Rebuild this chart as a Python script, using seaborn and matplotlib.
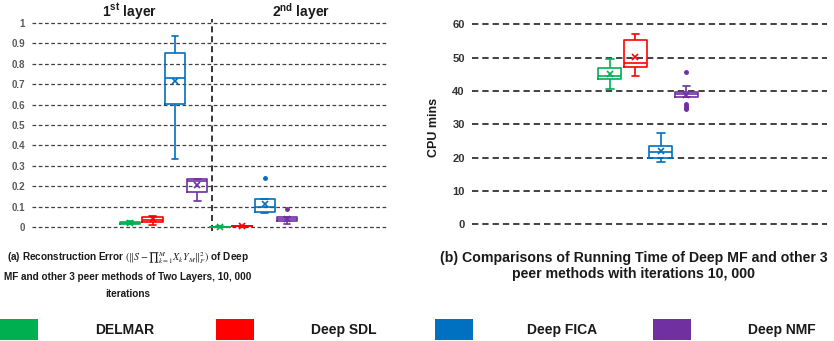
import numpy as np
import pandas as pd
import seaborn as sns
import matplotlib
matplotlib.use("Agg")
import matplotlib.pyplot as plt
from matplotlib.patches import Rectangle
from matplotlib import font_manager

# ---------------- data ----------------
methods = ["DELMAR", "Deep SDL", "Deep FICA", "Deep NMF"]
colors = ["#00b050", "#ff0000", "#0070c0", "#7030a0"]
layers = ["1st layer", "2nd layer"]

# reconstruction error samples (layer 1)
err_l1_delmar = [0.015, 0.017, 0.018, 0.020, 0.022, 0.024, 0.026, 0.028, 0.030]
err_l1_sdl = [0.012, 0.026, 0.027, 0.037, 0.038, 0.049, 0.050, 0.054, 0.055]
err_l1_fica = [0.334, 0.550, 0.603, 0.700, 0.731, 0.820, 0.853, 0.910, 0.935]
err_l1_nmf = [0.130, 0.165, 0.174, 0.215, 0.228, 0.231, 0.235, 0.236, 0.238]
# reconstruction error samples (layer 2)
err_l2_delmar = [0.000, 0.0005, 0.001, 0.0015, 0.002, 0.0025, 0.003, 0.004, 0.005]
err_l2_sdl = [0.002, 0.003, 0.004, 0.0045, 0.005, 0.0055, 0.006, 0.007, 0.008]
err_l2_fica = [0.070, 0.074, 0.076, 0.076, 0.090, 0.098, 0.100, 0.130, 0.136,
               0.137, 0.139, 0.140, 0.240]
err_l2_nmf = [0.015, 0.025, 0.030, 0.032, 0.036, 0.038, 0.040, 0.043, 0.046,
              0.049, 0.050, 0.052, 0.090]

# running time samples (CPU mins)
time_delmar = [40.5, 42.5, 43.6, 44.2, 44.5, 45.5, 46.8, 48.0, 49.5]
time_sdl = [44.5, 46.5, 47.3, 48.0, 48.5, 50.0, 55.3, 56.0, 57.0]
time_fica = [18.6, 19.2, 19.8, 20.5, 21.6, 22.5, 23.6, 25.0, 27.3]
time_nmf = [34.6, 35.0, 35.5, 36.0, 38.3, 38.5, 38.7, 38.9, 39.0, 39.2, 39.4,
            39.6, 39.8, 40.3, 40.9, 41.5, 45.6]

err_ticks = [0, 0.1, 0.2, 0.3, 0.4, 0.5, 0.6, 0.7, 0.8, 0.9, 1.0]
err_ticklabels = ["0", "0.1", "0.2", "0.3", "0.4", "0.5", "0.6", "0.7", "0.8", "0.9", "1"]
time_ticks = [0, 10, 20, 30, 40, 50, 60]
time_ticklabels = ["0", "10", "20", "30", "40", "50", "60"]

caption_a = [r"(a) Reconstruction Error $({\Vert}S-{\prod}_{k=1}^{M}X_kY_M{\Vert}_F^{2})$ of Deep",
             "MF and other 3 peer methods of Two Layers, 10, 000",
             "iterations"]
caption_b = ["(b) Comparisons of Running Time of Deep MF and other 3",
             "peer methods with iterations 10, 000"]
ylabel_b = "CPU mins"

# ---------------- tables ----------------
err_samples = {
    (layers[0], methods[0]): err_l1_delmar, (layers[0], methods[1]): err_l1_sdl,
    (layers[0], methods[2]): err_l1_fica, (layers[0], methods[3]): err_l1_nmf,
    (layers[1], methods[0]): err_l2_delmar, (layers[1], methods[1]): err_l2_sdl,
    (layers[1], methods[2]): err_l2_fica, (layers[1], methods[3]): err_l2_nmf,
}
err_cats = [f"{l}|{m}" for l in layers for m in methods]
rows = []
for (l, m), vals in err_samples.items():
    for v in vals:
        rows.append({"cat": f"{l}|{m}", "method": m, "value": v})
df_err = pd.DataFrame(rows)

time_samples = dict(zip(methods, [time_delmar, time_sdl, time_fica, time_nmf]))
rows = []
for m, vals in time_samples.items():
    for v in vals:
        rows.append({"cat": m, "method": m, "value": v})
df_time = pd.DataFrame(rows)

# ---------------- style ----------------
sns.set_theme(style="white")
names = {f.name for f in font_manager.fontManager.ttflist}
narrow = "Liberation Sans Narrow" if "Liberation Sans Narrow" in names else "Liberation Sans"
plt.rcParams["font.family"] = ["Liberation Sans", "DejaVu Sans"]
plt.rcParams["mathtext.fontset"] = "custom"
plt.rcParams["mathtext.rm"] = "Liberation Sans"
plt.rcParams["mathtext.bf"] = "Liberation Sans:bold"

W, H = 834, 341
fig = plt.figure(figsize=(W / 100, H / 100), dpi=100)


def px_axes(left, top, right, bottom):
    return fig.add_axes([left / W, 1 - bottom / H, (right - left) / W, (bottom - top) / H])


ax1 = px_axes(32, 18.6, 388, 231.4)
ax2 = px_axes(471.7, 21, 826.7, 229.3)


def draw(ax, df, order, width):
    for m, c in zip(methods, colors):
        sub = df[df["method"] == m]
        sns.boxplot(data=sub, x="cat", y="value", order=order, color=c, fill=False,
                    width=width, linewidth=1.2, showmeans=True, capwidths=0.3,
                    meanprops=dict(marker="x", markeredgecolor=c, markersize=4.5,
                                   markeredgewidth=1.2),
                    flierprops=dict(marker="o", markerfacecolor=c, markeredgecolor=c,
                                    markersize=2.5),
                    ax=ax)


draw(ax1, df_err, err_cats, 0.9)
draw(ax2, df_time, methods, 0.9)

for ax in (ax1, ax2):
    ax.set_xlabel("")
    ax.set_ylabel("")
    ax.set_xticks([])
    for s in ax.spines.values():
        s.set_visible(False)
    ax.set_axisbelow(True)
    ax.xaxis.grid(False)

ax1.set_xlim(-4.375, 11.5)
ax1.set_ylim(-0.02, 1.02)
ax1.set_yticks(err_ticks)
ax1.set_yticklabels(err_ticklabels, fontweight="bold")
ax1.tick_params(axis="y", length=0, pad=5, labelsize=7, labelcolor="#595959")
ax1.yaxis.grid(True, linestyle=(0, (3, 2)), color="#404040", linewidth=0.9)
ax1.axvline(3.64, color="black", linestyle=(0, (4, 2.5)), linewidth=1.1, zorder=1)

ax2.set_xlim(-5.42, 8.5)
ax2.set_ylim(-1.5, 61)
ax2.set_yticks(time_ticks)
ax2.set_yticklabels(time_ticklabels, fontweight="bold")
ax2.tick_params(axis="y", length=0, pad=5, labelsize=8, labelcolor="#333333")
ax2.yaxis.grid(True, linestyle=(0, (3.5, 2.2)), color="#333333", linewidth=1.3)

# ---------------- texts ----------------
def ftext(x, y, s, **kw):
    fig.text(x / W, 1 - y / H, s, **kw)


ftext(130, 12, r"1$^{\mathbf{st}}$ layer", ha="center", va="center", fontsize=10,
      fontweight="bold", color="#1a1a1a")
ftext(301, 12, r"2$^{\mathbf{nd}}$ layer", ha="center", va="center", fontsize=10,
      fontweight="bold", color="#1a1a1a")
ftext(434, 127, ylabel_b, ha="center", va="center", rotation=90, fontsize=9,
      fontweight="bold", color="#1a1a1a")

for s, y in zip(caption_a, [258, 277, 294]):
    ftext(128, y, s, ha="center", va="center", fontsize=7.2, fontweight="bold",
          family=[narrow, "DejaVu Sans"], math_fontfamily="stix", color="#1a1a1a")
for s, y in zip(caption_b, [258, 274]):
    ftext(634, y, s, ha="center", va="center", fontsize=10.2, fontweight="bold",
          color="#1a1a1a")

# legend
sq_x = [0, 216, 435, 653]
txt_x = [125, 344, 562, 782]
for x0, tx, m, c in zip(sq_x, txt_x, methods, colors):
    fig.add_artist(Rectangle((x0 / W, 1 - 340 / H), 38 / W, 21 / H,
                             transform=fig.transFigure, facecolor=c, edgecolor="none"))
    ftext(tx, 330, m, ha="center", va="center", fontsize=10, fontweight="bold",
          color="#1a1a1a")

fig.savefig("out.png", dpi=100)
